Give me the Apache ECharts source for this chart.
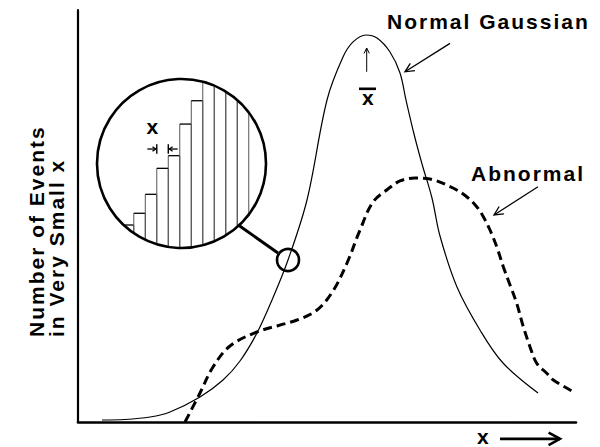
<!DOCTYPE html>
<html>
<head>
<meta charset="utf-8">
<script src="https://cdn.jsdelivr.net/npm/echarts@6/dist/echarts.min.js"></script>
<style>
html, body { margin: 0; padding: 0; background: #fff; }
#chart { width: 600px; height: 447px; }
#chart text { letter-spacing: 2px; }
</style>
</head>
<body>
<div id="chart"></div>
<script>
// ---- Main curves (x: 0..100 along the axis, y: 0..100 "number of events") ----
const gaussX = [4.82, 9.44, 14.46, 18.47, 24.5, 29.12, 32.53, 35.94, 38.96, 42.17, 45.98, 50.0, 53.21, 55.28, 57.83, 60.04, 62.65, 64.66, 65.86, 67.47, 69.08, 71.08, 72.69, 76.1, 80.72, 85.34, 92.37];
const gaussY = [0.49, 0.61, 1.21, 2.43, 6.07, 10.19, 14.81, 21.6, 29.61, 39.32, 53.88, 78.16, 88.59, 92.31, 93.93, 93.2, 89.81, 84.71, 78.16, 69.9, 62.62, 54.37, 45.15, 32.77, 22.33, 14.32, 7.04];

const abnormalX = [21.49, 24.5, 27.11, 30.52, 35.94, 43.98, 47.99, 51.2, 54.02, 56.63, 59.24, 62.25, 64.66, 67.67, 70.68, 75.3, 78.05, 80.06, 81.39, 82.73, 84.08, 85.4, 86.75, 88.09, 89.42, 90.76, 92.11, 94.12, 95.44, 99.46];
const abnormalY = [0, 7.04, 13.35, 18.45, 21.84, 24.76, 27.18, 31.8, 38.59, 46.6, 53.4, 56.55, 58.5, 59.22, 58.98, 56.8, 54.68, 52.26, 49.83, 46.6, 42.55, 37.69, 33.25, 28.81, 23.13, 18.28, 14.25, 11.82, 10.19, 7.35];

// ---- Magnified inset: histogram of very small x bins (inset units = one bin width) ----
const binStarts = [0, 1, 2, 3, 4, 5, 6, 7, 8, 9, 10];
const binHeights = [2.0, 3.02, 4.67, 6.93, 8.03, 10.78, 12.81, 14.6, 16.0, 17.5, 19.0];
const lensCircle = [5.15, 7.35, 7.35];      // centre x, centre y, radius (inset units)
const deltaEdges = [3, 4];                  // bin edges marked as the small x width
const deltaLevel = 8.61;
const connectorFrom = [10.09, 2.0];
const connectorTo = [13.54, -0.43];

// ---- Annotations in main-axis units ----
const probePoint = [42.17, 39.32];
const arrowFrom = [[74.7, 91.9], [92.37, 57.1], [57.97, 85.0], [84.74, -4.09]];
const arrowTo   = [[65.66, 85.0], [83.53, 50.24], [57.97, 90.78], [96.79, -4.09]];

// ---- Text ----
const labelNormal = 'Normal Gaussian';
const labelAbnormal = 'Abnormal';
const labelYAxis = 'Number of Events\nin Very Small x';
const labelXAxis = 'x';
const labelMean = 'x';      // drawn with an overline bar (x-bar)
const labelDelta = 'x';

const FONT = '"Liberation Sans", Arial, Helvetica, sans-serif';
const arrowStyles = [
  { lw: 1.3, head: 10, ang: 0.45 },
  { lw: 1.3, head: 10, ang: 0.45 },
  { lw: 1.0, head: 6, ang: 0.45 },
  { lw: 2.6, head: 13, ang: 0.5 }
];

function zip(xs, ys) { return xs.map((x, i) => [x, ys[i]]); }

function arrowChildren(p1, p2, head, ang, lw, color) {
  const dx = p2[0] - p1[0], dy = p2[1] - p1[1];
  const L = Math.sqrt(dx * dx + dy * dy) || 1;
  const ux = dx / L, uy = dy / L;
  const wing = (a) => {
    const c = Math.cos(a), s = Math.sin(a);
    const rx = ux * c - uy * s, ry = ux * s + uy * c;
    return [p2[0] - head * rx, p2[1] - head * ry];
  };
  return [
    { type: 'line', shape: { x1: p1[0], y1: p1[1], x2: p2[0], y2: p2[1] },
      style: { stroke: color, lineWidth: lw, lineCap: 'butt' } },
    { type: 'polyline', shape: { points: [wing(ang), p2, wing(-ang)] },
      style: { stroke: color, lineWidth: lw, fill: null, lineJoin: 'miter' } }
  ];
}

function renderBins(params, api) {
  const k = api.value(0), h = api.value(1);
  const c = api.coord([lensCircle[0], lensCircle[1]]);
  const r = api.size([lensCircle[2], 0])[0] - 1;
  const xl = api.coord([k, 0])[0], xr = api.coord([k + 1, 0])[0];
  const yt = api.coord([0, h])[1];
  const children = [];
  [xl, xr].forEach(function (x) {
    const d = x - c[0];
    if (Math.abs(d) >= r) return;
    const s = Math.sqrt(r * r - d * d);
    const yb = c[1] + s, ytop = Math.max(yt, c[1] - s);
    if (ytop < yb) children.push({ type: 'line', shape: { x1: x, y1: yb, x2: x, y2: ytop },
      style: { stroke: '#555', lineWidth: 1 } });
  });
  const dy = yt - c[1];
  if (Math.abs(dy) < r) {
    const w = Math.sqrt(r * r - dy * dy);
    const a = Math.max(xl, c[0] - w), b = Math.min(xr, c[0] + w);
    if (a < b) children.push({ type: 'line', shape: { x1: a, y1: yt, x2: b, y2: yt },
      style: { stroke: '#000', lineWidth: 1.3 } });
  }
  return { type: 'group', children: children };
}

function renderLens(params, api) {
  const c = api.coord([api.value(0), api.value(1)]);
  const r = api.size([api.value(2), 0])[0];
  const children = [
    { type: 'circle', shape: { cx: c[0], cy: c[1], r: r },
      style: { stroke: '#000', lineWidth: 2.6, fill: null } }
  ];
  const a = api.coord(connectorFrom), b = api.coord(connectorTo);
  children.push({ type: 'line', shape: { x1: a[0], y1: a[1], x2: b[0], y2: b[1] },
    style: { stroke: '#000', lineWidth: 3 } });
  // small-x width markers
  const e0 = api.coord([deltaEdges[0], deltaLevel]);
  const e1 = api.coord([deltaEdges[1], deltaLevel]);
  const len = api.size([0.82, 0])[0];
  const th = api.size([0, 0.42])[1];
  [[e0, 1], [e1, -1]].forEach(function (p) {
    const e = p[0], dir = p[1];
    children.push({ type: 'line', shape: { x1: e[0], y1: e[1] - th, x2: e[0], y2: e[1] + th },
      style: { stroke: '#000', lineWidth: 1.4 } });
    arrowChildren([e[0] - dir * len, e[1]], [e[0] - dir * 1, e[1]], 4, 0.6, 1.3, '#000')
      .forEach(function (ch) { children.push(ch); });
  });
  return { type: 'group', children: children };
}

function renderArrows(params, api) {
  const i = params.dataIndex;
  const st = arrowStyles[i];
  const p1 = api.coord([api.value(0), api.value(1)]);
  const p2 = api.coord([api.value(2), api.value(3)]);
  return { type: 'group', children: arrowChildren(p1, p2, st.head, st.ang, st.lw, '#000') };
}

function renderProbe(params, api) {
  const c = api.coord([api.value(0), api.value(1)]);
  return { type: 'circle', shape: { cx: c[0], cy: c[1], r: 11 },
    style: { stroke: '#000', lineWidth: 2.6, fill: null } };
}

const hiddenAxis = { show: false, splitLine: { show: false } };
const big = { font: 'bold 21px ' + FONT, fill: '#000' };

const option = {
  animation: false,
  backgroundColor: '#fff',
  grid: [
    { left: 78, right: 24, top: 10, bottom: 25 },
    { left: 97, top: 79, width: 169, height: 169 }
  ],
  xAxis: [
    { type: 'value', gridIndex: 0, min: 0, max: 100,
      axisLine: { show: true, lineStyle: { color: '#000', width: 2.6 } },
      axisTick: { show: false }, axisLabel: { show: false }, splitLine: { show: false } },
    Object.assign({ type: 'value', gridIndex: 1, min: -2.2, max: 12.5 }, hiddenAxis)
  ],
  yAxis: [
    { type: 'value', gridIndex: 0, min: 0, max: 100,
      axisLine: { show: true, lineStyle: { color: '#000', width: 2.2 } },
      axisTick: { show: false }, axisLabel: { show: false }, splitLine: { show: false } },
    Object.assign({ type: 'value', gridIndex: 1, min: 0, max: 14.7 }, hiddenAxis)
  ],
  series: [
    { name: 'Normal Gaussian', type: 'line', data: zip(gaussX, gaussY), smooth: 0.35,
      showSymbol: false, lineStyle: { color: '#000', width: 1.2 }, z: 3 },
    { name: 'Abnormal', type: 'line', data: zip(abnormalX, abnormalY), smooth: 0.35,
      showSymbol: false, lineStyle: { color: '#000', width: 3, type: [9, 5] }, z: 3 },
    { name: 'bins', type: 'custom', xAxisIndex: 1, yAxisIndex: 1, clip: false,
      data: zip(binStarts, binHeights), renderItem: renderBins, z: 4 },
    { name: 'lens', type: 'custom', xAxisIndex: 1, yAxisIndex: 1, clip: false,
      data: [lensCircle], renderItem: renderLens, z: 5 },
    { name: 'arrows', type: 'custom', xAxisIndex: 0, yAxisIndex: 0, clip: false,
      data: arrowFrom.map((p, i) => [p[0], p[1], arrowTo[i][0], arrowTo[i][1]]),
      renderItem: renderArrows, z: 5 },
    { name: 'probe', type: 'custom', xAxisIndex: 0, yAxisIndex: 0, clip: false,
      data: [probePoint], renderItem: renderProbe, z: 5 }
  ],
  graphic: [
    { type: 'text', x: 387, y: 21, style: Object.assign({ text: labelNormal, align: 'left', verticalAlign: 'middle' }, big) },
    { type: 'text', x: 471, y: 173.5, style: Object.assign({ text: labelAbnormal, align: 'left', verticalAlign: 'middle' }, big) },
    { type: 'text', x: 27, y: 337, rotation: Math.PI / 2,
      style: Object.assign({ text: labelYAxis, align: 'left', verticalAlign: 'top', lineHeight: 19.5 }, big) },
    { type: 'text', x: 477, y: 436.5, style: Object.assign({ text: labelXAxis, align: 'left', verticalAlign: 'middle', lineHeight: 15 }, big) },
    { type: 'group', x: 362, y: 97,
      children: [
        { type: 'text', x: 0, y: 0, style: Object.assign({ text: labelMean, align: 'left', verticalAlign: 'middle' }, big) },
        { type: 'rect', shape: { x: -3, y: -9.5, width: 17, height: 2.6 }, style: { fill: '#000' } }
      ] },
    { type: 'text', x: 146.5, y: 126, style: Object.assign({ text: labelDelta, align: 'left', verticalAlign: 'middle' }, big) }
  ]
};

const chart = echarts.init(document.getElementById('chart'), null, { renderer: 'svg', width: 600, height: 447 });
chart.setOption(option);
</script>
</body>
</html>
